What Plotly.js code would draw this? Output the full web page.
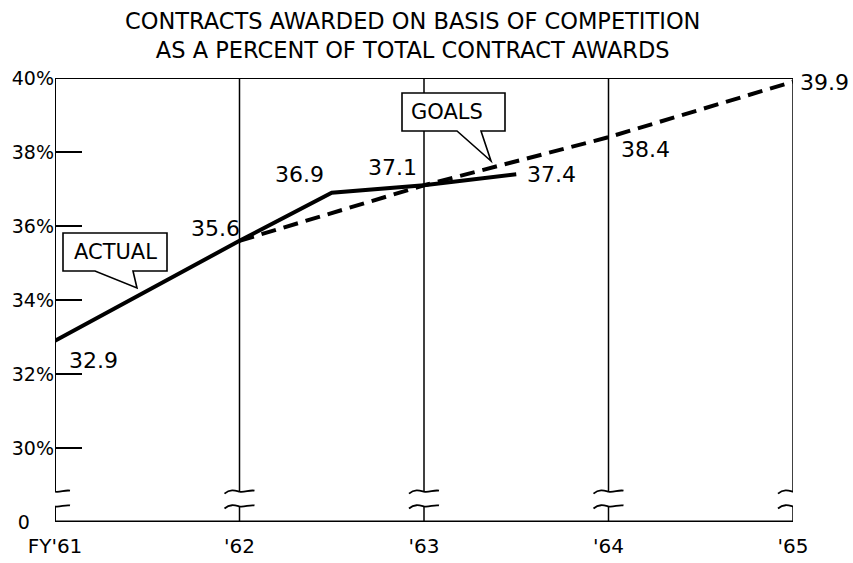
<!DOCTYPE html>
<html>
<head>
<meta charset="utf-8">
<script src="https://cdn.plot.ly/plotly-3.0.1.min.js"></script>
<style>html,body{margin:0;padding:0;background:#fff;}#chart{width:853px;height:563px;}</style>
</head>
<body>
<div id="chart"></div>
<script>
// ---- data ----
const yearVals = [1961, 1962, 1963, 1964, 1965];
const yearLabels = ["FY'61", "'62", "'63", "'64", "'65"];
const yTickVals = [28, 30, 32, 34, 36, 38, 40];
const yTickText = ["0&nbsp;&nbsp;&nbsp;&nbsp;", "30%", "32%", "34%", "36%", "38%", "40%"];
const actualX = [1961, 1962, 1962.5, 1963, 1963.5];
const actualY = [32.9, 35.6, 36.9, 37.1, 37.4];
const goalsX = [1962, 1963, 1964, 1965];
const goalsY = [35.6, 37.1, 38.4, 39.9];
const titleText = 'CONTRACTS AWARDED ON BASIS OF COMPETITION<br>AS A PERCENT OF TOTAL CONTRACT AWARDS';
const axisBase = 28, axisTop = 40, breakTop = 28.82, breakBottom = 28.42;

// label offsets (pixels) for data labels
const actualLabelShift = [[38, -20], [-24, 12], [-32, 18], [-32, 18], [35, 0]];
const goalsLabelShift = [null, null, [37, -12], [31, -1]];

const FONT = '"DejaVu Sans", sans-serif';
const shapes = [];
// top border & baseline
shapes.push({type: 'line', xref: 'x', yref: 'y', x0: yearVals[0], x1: yearVals[yearVals.length - 1], y0: axisTop, y1: axisTop, line: {color: '#000', width: 2}});
shapes.push({type: 'line', xref: 'x', yref: 'y', x0: yearVals[0], x1: yearVals[yearVals.length - 1], y0: axisBase, y1: axisBase, line: {color: '#000', width: 3}});
// vertical gridlines with breaks
yearVals.forEach((yr, i) => {
  const w = i === 0 ? 2 : 1.5;
  shapes.push({type: 'line', xref: 'x', yref: 'y', x0: yr, x1: yr, y0: axisTop, y1: breakTop, line: {color: '#000', width: w}});
  shapes.push({type: 'line', xref: 'x', yref: 'y', x0: yr, x1: yr, y0: breakBottom, y1: axisBase, line: {color: '#000', width: w}});
  [breakTop, breakBottom].forEach(by => {
    shapes.push({type: 'path', xref: 'x', yref: 'y', xsizemode: 'pixel', ysizemode: 'pixel', xanchor: yr, yanchor: by,
      path: 'M-15,-2 C-9,3 -4,1 0,0 C5,-1 10,2 15,1', line: {color: '#000', width: 1.8}});
  });
});
// speech bubbles
shapes.push({type: 'path', xref: 'x', yref: 'y', xsizemode: 'pixel', ysizemode: 'pixel', xanchor: yearVals[0], yanchor: 36,
  path: 'M8,-7 L112,-7 L112,-45 L78,-45 L82,-62 L40,-45 L8,-45 Z', fillcolor: '#fff', line: {color: '#000', width: 1.6}, layer: 'above'});
shapes.push({type: 'path', xref: 'x', yref: 'y', xsizemode: 'pixel', ysizemode: 'pixel', xanchor: yearVals[2], yanchor: 40,
  path: 'M-22,-15 L81,-15 L81,-53 L57,-53 L67,-83 L33,-53 L-22,-53 Z', fillcolor: '#fff', line: {color: '#000', width: 1.6}, layer: 'above'});

const annotations = [];
actualX.forEach((x, i) => {
  annotations.push({x: x, y: actualY[i], xref: 'x', yref: 'y', text: actualY[i].toFixed(1), showarrow: false,
    xshift: actualLabelShift[i][0], yshift: actualLabelShift[i][1], font: {family: FONT, size: 22, color: '#000'}});
});
goalsX.forEach((x, i) => {
  if (!goalsLabelShift[i]) return;
  annotations.push({x: x, y: goalsY[i], xref: 'x', yref: 'y', text: goalsY[i].toFixed(1), showarrow: false,
    xshift: goalsLabelShift[i][0], yshift: goalsLabelShift[i][1], font: {family: FONT, size: 22, color: '#000'}});
});
annotations.push({x: yearVals[0], y: 36, xref: 'x', yref: 'y', text: 'ACTUAL', showarrow: false, xshift: 60, yshift: -26, font: {family: FONT, size: 21, color: '#000'}});
annotations.push({x: yearVals[2], y: 40, xref: 'x', yref: 'y', text: 'GOALS', showarrow: false, xshift: 23, yshift: -34, font: {family: FONT, size: 21, color: '#000'}});
// title
annotations.push({x: 0.484, y: 1, xref: 'paper', yref: 'paper', xanchor: 'center', yanchor: 'middle', yshift: 43,
  text: titleText, showarrow: false, font: {family: FONT, size: 22.5, color: '#000'}});

const traces = [
  {x: goalsX, y: goalsY, mode: 'lines', line: {color: '#000', width: 4, dash: '15px,8px'}, hoverinfo: 'skip'},
  {x: actualX, y: actualY, mode: 'lines', line: {color: '#000', width: 4}, hoverinfo: 'skip'}
];

const layout = {
  width: 853, height: 563,
  margin: {l: 55, r: 60, t: 78, b: 41},
  paper_bgcolor: '#fff', plot_bgcolor: '#fff',
  showlegend: false,
  xaxis: {range: [1961, 1965], tickvals: yearVals, ticktext: yearLabels, showgrid: false, zeroline: false, showline: false,
    ticks: '', ticklabelstandoff: 10, tickfont: {family: FONT, size: 20, color: '#000'}},
  yaxis: {range: [axisBase, axisTop], tickvals: yTickVals, ticktext: yTickText, showgrid: false, zeroline: false, showline: false,
    ticks: 'inside', ticklen: 27, tickwidth: 1.5, tickcolor: '#000', tickfont: {family: FONT, size: 19, color: '#000'}},
  shapes: shapes,
  annotations: annotations
};
Plotly.newPlot('chart', traces, layout, {staticPlot: true});
</script>
</body>
</html>
